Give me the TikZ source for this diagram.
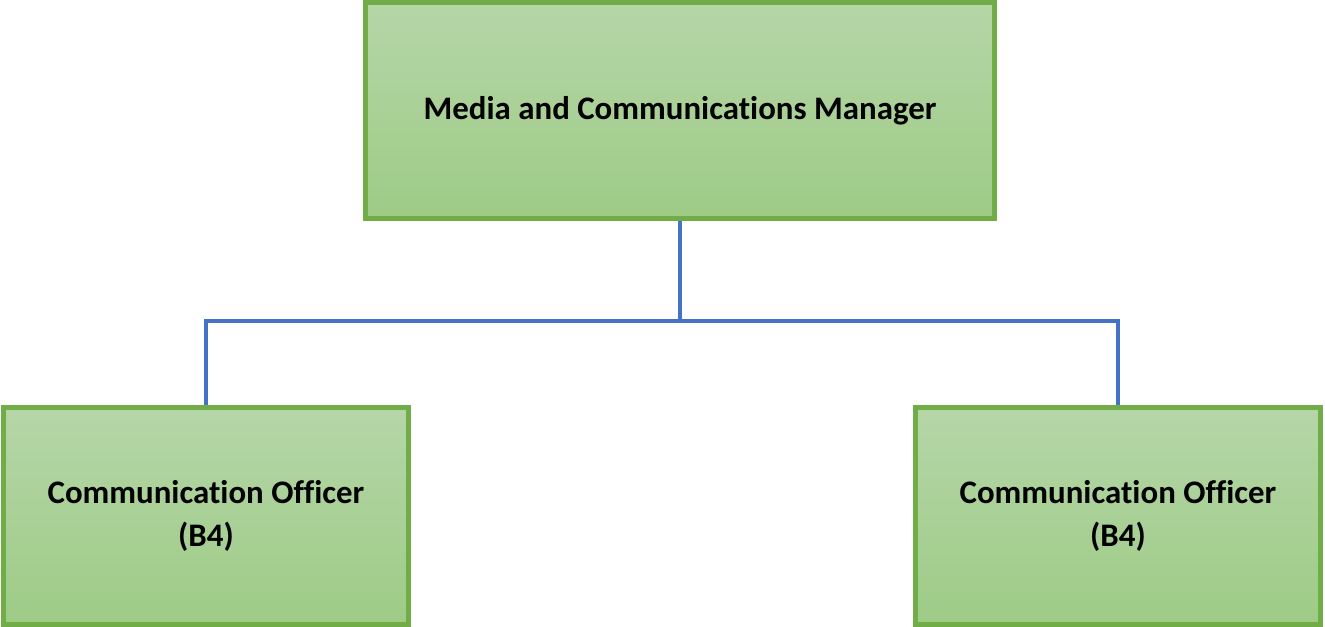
\documentclass[tikz,border=0pt]{standalone}
\usepackage{fontspec}
\setmainfont[Ligatures=NoCommon]{Carlito}
\definecolor{boxline}{HTML}{70AD47}
\definecolor{boxtop}{HTML}{B5D6A8}
\definecolor{boxbot}{HTML}{9ECB86}
\definecolor{linkblue}{HTML}{4472C4}
\tikzset{
	rolebox/.style={draw=boxline, line width=5bp, top color=boxtop, bottom color=boxbot,
		inner sep=0pt, align=center, font=\fontsize{33}{44}\selectfont\bfseries},
	link/.style={draw=linkblue, line width=4.5bp}
}

\begin{document}
\begin{tikzpicture}[x=1bp, y=1bp]
			%%%%% START %%%%%
			
			\useasboundingbox (0, 0) rectangle (1325, 627);
			
			\node[rolebox, minimum width=629bp, minimum height=216bp] (manager) at (680, 516.5) {Media and Communications Manager};
			
			\node[rolebox, minimum width=405bp, minimum height=217bp] (officerL) at (206, 111) {Communication Officer\\(B4)};
			\node[rolebox, minimum width=405bp, minimum height=217bp] (officerR) at (1118, 111) {Communication Officer\\(B4)};
			
			\coordinate (split) at (680, 306);
			
			\draw[link] (manager.south) -- (split);
			\draw[link] (split) -| (officerL.north);
			\draw[link] (split) -| (officerR.north);
			
			%%%%% END %%%%%
\end{tikzpicture}
\end{document}
